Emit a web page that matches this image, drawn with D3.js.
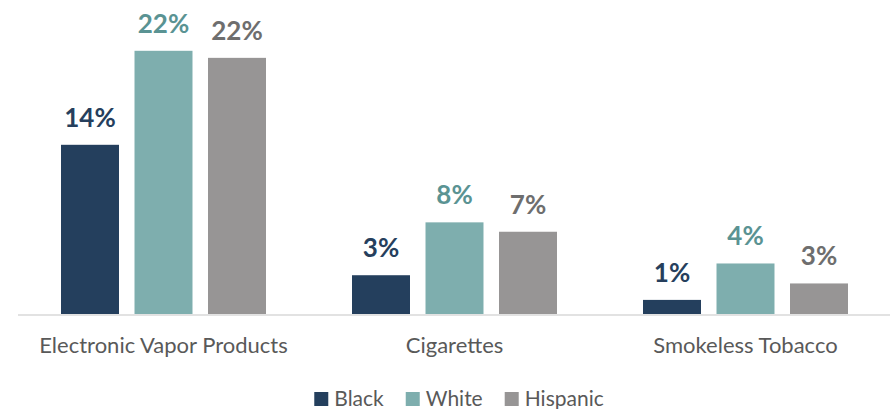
<!DOCTYPE html>
<html>
<head>
<meta charset="utf-8">
<script src="https://cdn.jsdelivr.net/npm/d3@7"></script>
<style>
  html, body { margin: 0; padding: 0; background: #fff; }
  svg { display: block; }
  text { font-family: Lato, "Open Sans", sans-serif; }
</style>
</head>
<body>
<svg id="chart" width="890" height="409"></svg>
<script>
// Youth tobacco product use by race/ethnicity (percent)
const categories = ["Electronic Vapor Products", "Cigarettes", "Smokeless Tobacco"];
const seriesNames = ["Black", "White", "Hispanic"];
const black    = [14.4, 3.3, 1.2];
const white    = [22.4, 7.8, 4.3];
const hispanic = [21.8, 7.0, 2.6];

const barColors   = { Black: "#243f5d", White: "#7eaeae", Hispanic: "#979595" };
const labelColors = { Black: "#263f5d", White: "#5a9393", Hispanic: "#6e6e6e" };

const valuesBySeries = { Black: black, White: white, Hispanic: hispanic };
const rows = categories.map((c, i) => ({
  category: c,
  values: seriesNames.map(s => ({ series: s, value: valuesBySeries[s][i] }))
}));

const svg = d3.select("#chart");
const baseline = 314;

const x0 = d3.scaleBand().domain(categories).range([18, 891]).padding(0);
const groupW = 205;
const x1 = d3.scaleBand().domain(seriesNames)
  .range([(x0.bandwidth() - groupW) / 2, (x0.bandwidth() + groupW) / 2])
  .paddingInner(0.211).paddingOuter(0);
const y = d3.scaleLinear().domain([0, 25]).range([baseline, 20.25]);

const groups = svg.append("g").selectAll("g")
  .data(rows).join("g")
  .attr("transform", d => `translate(${x0(d.category)},0)`);

groups.selectAll("rect")
  .data(d => d.values).join("rect")
  .attr("x", d => x1(d.series))
  .attr("y", d => y(d.value))
  .attr("width", x1.bandwidth())
  .attr("height", d => baseline - y(d.value))
  .attr("fill", d => barColors[d.series]);

groups.selectAll("text.val")
  .data(d => d.values).join("text")
  .attr("class", "val")
  .attr("x", d => x1(d.series) + x1.bandwidth() / 2)
  .attr("y", d => y(d.value) - 18)
  .attr("text-anchor", "middle")
  .attr("font-size", 26)
  .attr("font-weight", 700)
  .attr("fill", d => labelColors[d.series])
  .text(d => Math.round(d.value) + "%");

// category axis
const xAxis = d3.axisBottom(x0).tickSize(0).tickPadding(0);
const axisG = svg.append("g").attr("transform", `translate(0,${baseline + 1})`).call(xAxis);
axisG.select(".domain").attr("stroke", "#d9d9d9").attr("stroke-width", 1.5)
  .attr("d", "M18,0H890");
axisG.selectAll(".tick text")
  .attr("y", 38).attr("dy", 0)
  .attr("font-family", "Lato, sans-serif")
  .attr("font-size", 22)
  .attr("fill", "#595959");

// legend
const legend = svg.append("g");
const items = legend.selectAll("g").data(seriesNames).join("g");
items.append("rect").attr("width", 14).attr("height", 14).attr("y", 392)
  .attr("fill", d => barColors[d]);
items.append("text").attr("y", 406).attr("x", 20)
  .attr("font-size", 21).attr("fill", "#595959").text(d => d);
let cursor = 0;
const offsets = [];
items.each(function () {
  offsets.push(cursor);
  const w = 20 + this.querySelector("text").getComputedTextLength();
  cursor += w + 22;
});
const totalW = cursor - 22;
const startX = 459 - totalW / 2;
items.attr("transform", (d, i) => `translate(${startX + offsets[i]},0)`);
</script>
</body>
</html>
